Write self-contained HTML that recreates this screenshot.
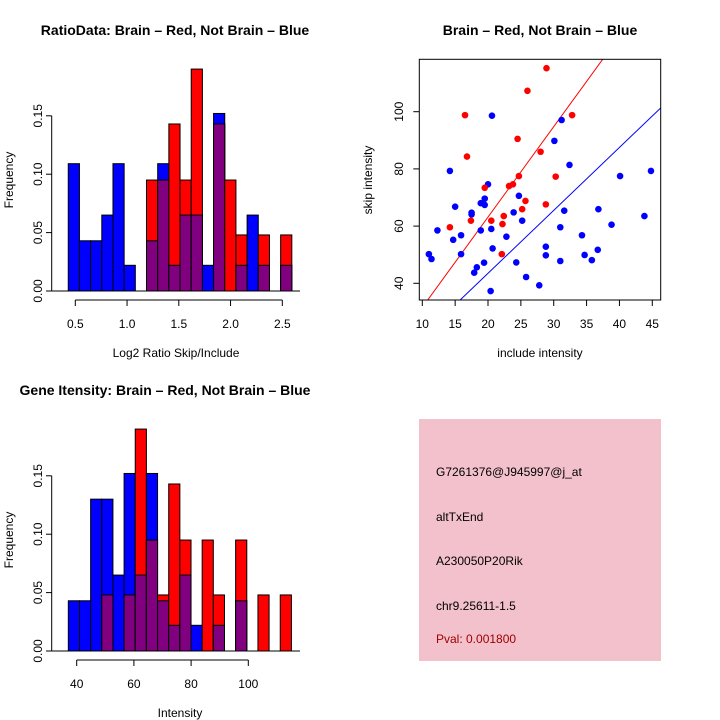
<!DOCTYPE html>
<html><head><meta charset="utf-8"><style>
html,body{margin:0;padding:0;background:#fff;}
svg{display:block;font-family:"Liberation Sans",sans-serif;}
</style></head><body>
<svg id="fig" width="720" height="720" viewBox="0 0 720 720">
<g id="h1"></g>
<g id="h2"></g>
<g id="sc"></g>
<g>
<rect x="419" y="419" width="242" height="242" fill="#f3c1cc"/>
<g font-size="12" fill="#000">
<text x="436" y="476">G7261376@J945997@j_at</text>
<text x="436" y="521">altTxEnd</text>
<text x="436" y="565">A230050P20Rik</text>
<text x="436" y="610">chr9.25611-1.5</text>
<text x="436" y="643" fill="#a00000">Pval: 0.001800</text>
</g></g>
</svg>
<script>
// Ratio histogram data
const ratioStart = 0.432;
const ratioWidth = 0.108;
const ratioBlue = [0.109,0.043,0.043,0.065,0.109,0.022,0,0.043,0.109,0.022,0.065,0.065,0.022,0.152,0,0.022,0.065,0.022,0,0.022];
const ratioRed  = [0,0,0,0,0,0,0,0.095,0.095,0.143,0.095,0.190,0,0.143,0.095,0.048,0,0.048,0,0.048];
const ratioXTicks = [0.5,1.0,1.5,2.0,2.5];
const ratioXLabels = ["0.5","1.0","1.5","2.0","2.5"];
const freqTicks = [0,0.05,0.10,0.15];
const freqLabels = ["0.00","0.05","0.10","0.15"];
// Intensity histogram data
const intStart = 37.07;
const intWidth = 3.9;
const intBlue = [0.043,0.043,0.130,0.130,0.065,0.152,0.065,0.152,0.043,0.022,0.065,0.022,0,0.022,0,0.043,0,0,0,0];
const intRed  = [0,0,0,0.048,0,0.048,0.190,0.095,0.048,0.143,0.095,0,0.095,0.048,0,0.095,0,0.048,0,0.048];
const intXTicks = [40,60,80,100];
const intXLabels = ["40","60","80","100"];
// Scatter data
const redX = [28.9,26.0,16.5,32.8,16.8,24.5,28.0,24.7,30.3,19.5,23.2,23.8,25.7,25.2,28.8,17.4,20.5,22.4,22.2,22.1,14.2];
const redY = [115.2,107.3,98.8,98.8,84.3,90.5,86.0,77.5,77.3,73.4,74.0,74.6,68.8,65.9,67.6,61.9,61.9,63.5,60.7,50.2,59.6];
const blueX = [20.6,31.2,30.1,32.4,14.2,40.1,44.8,20.0,19.5,18.9,19.5,15.0,17.5,17.5,24.7,23.9,25.2,31.6,36.8,12.3,14.7,15.9,18.9,20.5,22.8,31.0,38.8,43.8,34.3,11.0,11.4,15.9,20.7,18.3,17.9,19.4,24.3,28.8,28.8,31.0,34.7,35.8,36.7,25.8,27.8,20.4];
const blueY = [98.6,97.1,89.8,81.4,79.3,77.5,79.3,74.6,69.6,68.0,67.4,66.8,64.7,64.1,70.6,64.8,61.9,65.4,65.9,58.5,55.2,56.8,58.5,59.0,56.3,59.6,60.5,63.5,56.8,50.2,48.5,50.2,52.2,45.6,43.7,47.2,47.3,52.8,49.8,47.8,49.9,48.1,51.7,42.2,39.3,37.3];
const redFit = [3.16, -0.03];
const blueFit = [2.20, -0.5];
const scXTicks = [10,15,20,25,30,35,40,45];
const scXLabels = ["10","15","20","25","30","35","40","45"];
const scYTicks = [40,60,80,100];
const scYLabels = ["40","60","80","100"];

const NS = "http://www.w3.org/2000/svg";
function mk(parent, tag, attrs, txt){
  const e = document.createElementNS(NS, tag);
  for (const k in attrs) e.setAttribute(k, attrs[k]);
  if (txt !== undefined) e.textContent = txt;
  parent.appendChild(e);
  return e;
}

function histogram(g, o){
  const sx = v => o.x0 + (v - o.v0) * o.kx;
  const sy = v => o.base - v * o.ky;
  const n = o.blue.length;
  for (let i = 0; i < n; i++){
    const a = o.start + i * o.width, b = a + o.width;
    const x = sx(a), w = sx(b) - sx(a);
    const bl = o.blue[i], rd = o.red[i];
    if (bl > 0){
      const r = mk(g,'rect',{x:x,y:sy(bl),width:w,height:sy(0)-sy(bl),fill:'#0000ff',stroke:'#000','stroke-width':1});
      
      
    }
    if (rd > 0){
      const r = mk(g,'rect',{x:x,y:sy(rd),width:w,height:sy(0)-sy(rd),fill:'#ff0000',stroke:'#000','stroke-width':1});
      
      
    }
    const m = Math.min(bl, rd);
    if (m > 0){
      const r = mk(g,'rect',{x:x,y:sy(m),width:w,height:sy(0)-sy(m),fill:'#800080',stroke:'#000','stroke-width':1});
      
      
    }
  }
  mk(g,'line',{x1:51.7,x2:300,y1:o.base,y2:o.base,stroke:'#000'});
  // y axis
  mk(g,'line',{x1:51.7,x2:51.7,y1:sy(0),y2:sy(0.15),stroke:'#000'});
  freqTicks.forEach((t,i)=>{
    mk(g,'line',{x1:46,x2:51.7,y1:sy(t),y2:sy(t),stroke:'#000'});
    const tx = mk(g,'text',{x:0,y:0,'font-size':12,'text-anchor':'middle',transform:`translate(42,${sy(t)}) rotate(-90)`}, freqLabels[i]);
    
    
  });
  // x axis
  const ay = o.base + 9;
  mk(g,'line',{x1:sx(o.xt[0]),x2:sx(o.xt[o.xt.length-1]),y1:ay,y2:ay,stroke:'#000'});
  o.xt.forEach((t,i)=>{
    mk(g,'line',{x1:sx(t),x2:sx(t),y1:ay,y2:ay+6,stroke:'#000'});
    const tx = mk(g,'text',{x:sx(t),y:ay+28,'font-size':12,'text-anchor':'middle'}, o.xl[i]);
    
    
  });
  const yt = mk(g,'text',{x:0,y:0,'font-size':12,'text-anchor':'middle',transform:`translate(13,${o.ymid}) rotate(-90)`},'Frequency');
  
  
  const xt = mk(g,'text',{x:o.xmid,y:o.xtitleY,'font-size':12,'text-anchor':'middle'},o.xtitle);
  
  
  const tt = mk(g,'text',{x:o.tx,y:o.ty,'font-size':14,'font-weight':'bold','text-anchor':'middle'},o.title);
  
  
}

histogram(document.getElementById('h1'),{
  x0:75.3, v0:0.5, kx:103.5, base:291, ky:1168,
  start:ratioStart, width:ratioWidth, blue:ratioBlue, red:ratioRed,
  xt:ratioXTicks, xl:ratioXLabels, ymid:180, xmid:176, xtitleY:357,
  xtitle:'Log2 Ratio Skip/Include', tx:175, ty:35, title:'RatioData: Brain \u2013 Red, Not Brain \u2013 Blue'
});
histogram(document.getElementById('h2'),{
  x0:76.7, v0:40, kx:2.86, base:651, ky:1168,
  start:intStart, width:intWidth, blue:intBlue, red:intRed,
  xt:intXTicks, xl:intXLabels, ymid:540, xmid:180, xtitleY:717,
  xtitle:'Intensity', tx:165, ty:395, title:'Gene Itensity: Brain \u2013 Red, Not Brain \u2013 Blue'
});

// Scatter
(function(){
  const g = document.getElementById('sc');
  const L=419.3,R=660.7,T=59.3,B=300;
  const sx = v => 422.3 + (v-10)*6.571;
  const sy = v => 283.3 - (v-40)*2.86;
  const cp = mk(g,'clipPath',{id:'scclip'});
  mk(cp,'rect',{x:L,y:T,width:R-L,height:B-T});
  const fits = [[redFit,'#ff0000','red-fit-line'],[blueFit,'#0000ff','blue-fit-line']];
  fits.forEach(f=>{
    const x1=8,x2=50;
    const l = mk(g,'line',{x1:sx(x1),x2:sx(x2),y1:sy(f[0][0]*x1+f[0][1]),y2:sy(f[0][0]*x2+f[0][1]),stroke:f[1],'stroke-width':1,'clip-path':'url(#scclip)'});
    
    
  });
  blueX.forEach((x,i)=>{
    const c = mk(g,'circle',{cx:sx(x),cy:sy(blueY[i]),r:3.3,fill:'#0000ff'});
    
    
  });
  redX.forEach((x,i)=>{
    const c = mk(g,'circle',{cx:sx(x),cy:sy(redY[i]),r:3.3,fill:'#ff0000'});
    
    
  });
  mk(g,'rect',{x:L,y:T,width:R-L,height:B-T,fill:'none',stroke:'#000'});
  scXTicks.forEach((t,i)=>{
    mk(g,'line',{x1:sx(t),x2:sx(t),y1:B,y2:B+6,stroke:'#000'});
    const tx = mk(g,'text',{x:sx(t),y:328,'font-size':12,'text-anchor':'middle'},scXLabels[i]);
    
    
  });
  scYTicks.forEach((t,i)=>{
    mk(g,'line',{x1:L-6,x2:L,y1:sy(t),y2:sy(t),stroke:'#000'});
    const tx = mk(g,'text',{x:0,y:0,'font-size':12,'text-anchor':'middle',transform:`translate(403,${sy(t)}) rotate(-90)`},scYLabels[i]);
    
    
  });
  const yt = mk(g,'text',{x:0,y:0,'font-size':12,'text-anchor':'middle',transform:'translate(372,180) rotate(-90)'},'skip intensity');
  
  
  const xt = mk(g,'text',{x:540,y:357,'font-size':12,'text-anchor':'middle'},'include intensity');
  
  
  const tt = mk(g,'text',{x:540,y:35,'font-size':14,'font-weight':'bold','text-anchor':'middle'},'Brain \u2013 Red, Not Brain \u2013 Blue');
  
  
})();
</script>
</body></html>
